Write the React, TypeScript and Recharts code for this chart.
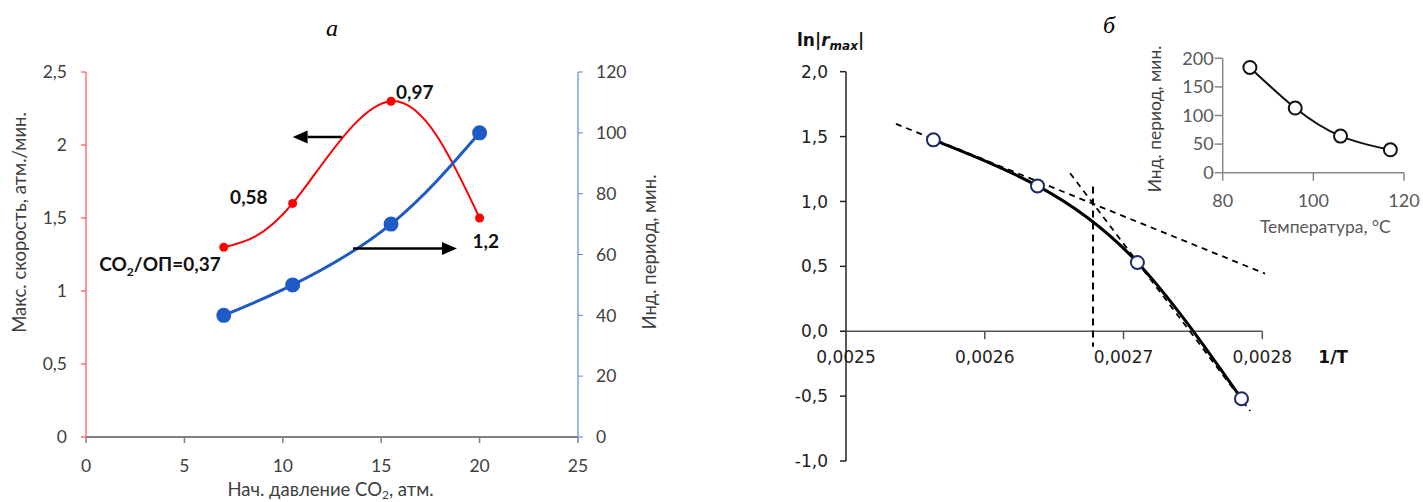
import React from 'react';
import { ComposedChart, LineChart, Line, XAxis, YAxis, ReferenceLine } from 'recharts';

// chart a — initial CO2 pressure
const pressure = [7, 10.5, 15.5, 20];
const maxRate = [1.3, 1.6, 2.3, 1.5];
const inductionPeriod = [40, 50, 70, 100];
const ratioLabels = ['0,37', '0,58', '0,97', '1,2'];
const pressureTicks = [0, 5, 10, 15, 20, 25];
const rateTicks = [0, 0.5, 1, 1.5, 2, 2.5];
const periodTicks = [0, 20, 40, 60, 80, 100, 120];
// arrows showing which axis each curve belongs to: [pressure, value]
const rateArrow = [[13.0, 2.055], [10.5, 2.055]];
const periodArrow = [[13.57, 62], [18.85, 62]];

// chart б — ln|r_max| vs 1/T
const invT = [0.002563, 0.002638, 0.00271, 0.002785];
const lnRmax = [1.475, 1.12, 0.53, -0.52];
const invTTicks = [0.0025, 0.0026, 0.0027, 0.0028];
const lnTicks = [-1, -0.5, 0, 0.5, 1, 1.5, 2];
// dashed tangents and the break marker: [1/T, ln r]
const tangentHigh = [[0.002536, 1.598], [0.002802, 0.444]];
const tangentLow = [[0.0026615, 1.218], [0.0027913, -0.615]];
const breakLine = [[0.002678, 1.115], [0.002678, -0.12]];

// inset — induction period vs temperature
const insetTemp = [86, 96, 106, 117];
const insetPeriod = [184, 113, 64, 40];
const tempTicks = [80, 100, 120];
const insetPeriodTicks = [0, 50, 100, 150, 200];

const dataA = pressure.map((p, i) => ({ p, rate: maxRate[i], period: inductionPeriod[i], label: ratioLabels[i] }));
const dataB = invT.map((x, i) => ({ x, y: lnRmax[i] }));
const dataInset = insetTemp.map((t, i) => ({ t, period: insetPeriod[i] }));

const comma = (v: number) => String(v).replace('.', ',');
const seg = (s: number[][]) => s.map(([x, y]) => ({ x, y }));

const FONT_A = 'Lato, "Open Sans", sans-serif';
const FONT_B = '"DejaVu Sans", sans-serif';

const labelPlacement = [
  { dx: -3, dy: 17, anchor: 'end' },
  { dx: -25, dy: -6, anchor: 'end' },
  { dx: 5, dy: -9, anchor: 'start' },
  { dx: -7, dy: 23, anchor: 'start' },
];

const RateDot = (props: any) => {
  const { cx, cy, index, payload } = props;
  const pl = labelPlacement[index];
  return (
    <g key={`rd-${index}`}>
      <circle cx={cx} cy={cy} r={4.5} fill="#ff0000" />
      <text x={cx + pl.dx} y={cy + pl.dy} dy="0.35em" textAnchor={pl.anchor as any} fontWeight="bold"
        fontSize={19} fontFamily={FONT_A} fill="#111">
        {index === 0 && (
          <>CO<tspan fontSize={12} dy={5}>2</tspan><tspan dy={-5}>/ОП=</tspan></>
        )}
        {payload.label}
      </text>
    </g>
  );
};

const Arrow = (props: any) => {
  const { x1, y1, x2, y2 } = props;
  const dir = Math.sign(x2 - x1);
  const head = 15;
  return (
    <g>
      <line x1={x1} y1={y1} x2={x2 - dir * head} y2={y2} stroke="#000" strokeWidth={2.5} />
      <polygon points={`${x2},${y2} ${x2 - dir * head},${y2 - 6.5} ${x2 - dir * head},${y2 + 6.5}`} fill="#000" />
    </g>
  );
};

const OpenDot = (color: string) => (props: any) => (
  <circle key={`od-${props.index}`} cx={props.cx} cy={props.cy} r={6.5} fill="#fff" stroke={color} strokeWidth={2} />
);

// tick for chart б drawn on the y=0 line instead of the bottom of the plot
const B_TOP = 71.7;
const B_BOTTOM = 41;
const B_H = 502 - B_TOP - B_BOTTOM;
const ZeroTick = (props: any) => {
  const { x, y, payload } = props;
  const zy = y - B_H / 3;
  return (
    <g>
      <line x1={x} y1={zy} x2={x} y2={zy + 8} stroke="#555" strokeWidth={1.5} />
      <text x={x} y={zy + 26} dy="0.35em" textAnchor="middle" fontSize={17} fontFamily={FONT_B} fill="#222">
        {payload.value.toFixed(4).replace('.', ',')}
      </text>
    </g>
  );
};

export default function App() {
  return (
    <div style={{ position: 'relative', width: 1423, height: 502, background: '#fff', overflow: 'hidden' }}>
      <style>{'body{margin:0}'}</style>
      <svg width={1423} height={502} style={{ position: 'absolute', left: 0, top: 0 }}>
        <text x={332} y={28} dy="0.35em" textAnchor="middle" fontSize={24} fontStyle="italic" fontFamily='"Liberation Serif", serif'>а</text>
        <text x={1109} y={25} dy="0.35em" textAnchor="middle" fontSize={24} fontStyle="italic" fontFamily='"Liberation Serif", serif'>б</text>
      </svg>

      {/* chart a */}
      <div style={{ position: 'absolute', left: 0, top: 0 }}>
        <LineChart width={700} height={502} data={dataA} margin={{ top: 72, right: 0, bottom: 0, left: 0 }}>
          <XAxis dataKey="p" type="number" domain={[0, 25]} ticks={pressureTicks} interval={0} height={65}
            axisLine={{ stroke: '#808080', strokeWidth: 2 }} tickLine={{ stroke: '#808080', strokeWidth: 1.5 }}
            tickSize={6} tickMargin={17} tick={{ fontSize: 17.5, fontFamily: FONT_A, fill: '#404040' }}
            label={(p: any) => {
              const vb = p.viewBox;
              return (
                <text x={vb.x + vb.width / 2 - 1.5} y={vb.y + 53} dy="0.35em" textAnchor="middle" fontSize={18.5}
                  fontFamily={FONT_A} fill="#404040">
                  Нач. давление CO<tspan fontSize={12} dy={3}>2</tspan><tspan dy={-3}>, атм.</tspan>
                </text>
              );
            }} />
          <YAxis yAxisId="left" domain={[0, 2.5]} ticks={rateTicks} interval={0} width={86}
            axisLine={{ stroke: '#ff7070', strokeWidth: 1.5 }} tickLine={{ stroke: '#ff3030' }} tickSize={5} tickMargin={14}
            tickFormatter={comma} tick={{ fontSize: 17.5, fontFamily: FONT_A, fill: '#404040' }}
            label={(p: any) => {
              const vb = p.viewBox;
              const cx = vb.x + 20;
              const cy = vb.y + vb.height / 2 - 32;
              return (
                <text x={cx} y={cy} dy="0.35em" transform={`rotate(-90 ${cx} ${cy})`} textAnchor="middle"
                  fontSize={18.5} fontFamily={FONT_A} fill="#404040">Макс. скорость, атм./мин.</text>
              );
            }} />
          <YAxis yAxisId="right" orientation="right" domain={[0, 120]} ticks={periodTicks} interval={0} width={122}
            axisLine={{ stroke: '#7ca2e2', strokeWidth: 1.5 }} tickLine={{ stroke: '#5b8ad8' }} tickSize={5} tickMargin={13}
            tick={{ fontSize: 17.5, fontFamily: FONT_A, fill: '#404040' }}
            label={(p: any) => {
              const vb = p.viewBox;
              const cx = vb.x + 72;
              const cy = vb.y + vb.height / 2 - 2.5;
              return (
                <text x={cx} y={cy} dy="0.35em" transform={`rotate(-90 ${cx} ${cy})`} textAnchor="middle"
                  fontSize={18.5} fontFamily={FONT_A} fill="#404040">Инд. период,  мин.</text>
              );
            }} />
          <Line yAxisId="left" dataKey="rate" type="natural" stroke="#ff0000" strokeWidth={2}
            dot={RateDot} isAnimationActive={false} />
          <Line yAxisId="right" dataKey="period" type="natural" stroke="#1f5bc6" strokeWidth={3}
            dot={{ r: 6, fill: '#1f5bc6', stroke: '#1f5bc6' }} isAnimationActive={false} />
          <ReferenceLine yAxisId="left" segment={seg(rateArrow)} shape={Arrow} ifOverflow="visible" />
          <ReferenceLine yAxisId="right" segment={seg(periodArrow)} shape={Arrow} ifOverflow="visible" />
        </LineChart>
      </div>

      {/* chart б */}
      <div style={{ position: 'absolute', left: 760, top: 0 }}>
        <ComposedChart width={663} height={502} data={dataB} margin={{ top: B_TOP, right: 160.7, bottom: 0, left: 0 }}>
          <XAxis dataKey="x" type="number" domain={[0.0025, 0.0028]} ticks={invTTicks} interval={0} height={B_BOTTOM}
            axisLine={false} tickLine={false} tickSize={0} tickMargin={0} tick={ZeroTick} />
          <YAxis domain={[-1, 2]} ticks={lnTicks} interval={0} width={86}
            axisLine={{ stroke: '#222', strokeWidth: 1.5 }} tickLine={{ stroke: '#222', strokeWidth: 1.5 }}
            tickSize={6} tickMargin={12} tickFormatter={(v: number) => v.toFixed(1).replace('.', ',')}
            tick={{ fontSize: 17, fontFamily: FONT_B, fill: '#222' }}
            label={(p: any) => {
              const vb = p.viewBox;
              return (
                <text x={vb.x + 37} y={vb.y - 31.7} dy="0.35em" fontSize={17} fontWeight="bold" fontFamily={FONT_B} fill="#111">
                  ln|<tspan fontStyle="italic">r</tspan><tspan fontStyle="italic" fontSize={12} dy={4}>max</tspan><tspan dy={-4}>|</tspan>
                </text>
              );
            }} />
          <ReferenceLine y={0} stroke="#555" strokeWidth={1.5}
            label={(p: any) => {
              const vb = p.viewBox;
              return (
                <text x={vb.x + vb.width + 56} y={vb.y + 26} dy="0.35em" fontSize={17} fontWeight="bold" fontFamily={FONT_B} fill="#111">1/T</text>
              );
            }} />
          <ReferenceLine segment={seg(tangentHigh)} stroke="#000" strokeWidth={1.8} strokeDasharray="6 5" ifOverflow="visible" />
          <ReferenceLine segment={seg(tangentLow)} stroke="#000" strokeWidth={1.8} strokeDasharray="6 5" ifOverflow="visible" />
          <ReferenceLine segment={seg(breakLine)} stroke="#000" strokeWidth={2} strokeDasharray="7 5" ifOverflow="visible" />
          <Line dataKey="y" type="natural" stroke="#000" strokeWidth={3} dot={OpenDot('#1c2a6b')} isAnimationActive={false} />
        </ComposedChart>
      </div>

      {/* inset */}
      <div style={{ position: 'absolute', left: 1100, top: 0 }}>
        <LineChart width={323} height={240} data={dataInset} margin={{ top: 58.3, right: 19, bottom: 0, left: 0 }}>
          <XAxis dataKey="t" type="number" domain={[80, 120]} ticks={tempTicks} interval={0} height={67.3}
            axisLine={{ stroke: '#888', strokeWidth: 1.5 }} tickLine={{ stroke: '#888', strokeWidth: 1.5 }}
            tickSize={8} tickMargin={14} tick={{ fontSize: 18, fontFamily: FONT_A, fill: '#595959' }}
            label={(p: any) => {
              const vb = p.viewBox;
              return (
                <text x={vb.x + vb.width / 2 + 12} y={vb.y + 54} dy="0.35em" textAnchor="middle" fontSize={17.5}
                  fontFamily={FONT_A} fill="#595959">Температура, °С</text>
              );
            }} />
          <YAxis domain={[0, 200]} ticks={insetPeriodTicks} interval={0} width={122.7}
            axisLine={{ stroke: '#888', strokeWidth: 1.5 }} tickLine={{ stroke: '#888', strokeWidth: 1.5 }}
            tickSize={8} tickMargin={1} tick={{ fontSize: 18, fontFamily: FONT_A, fill: '#595959' }}
            label={(p: any) => {
              const vb = p.viewBox;
              const cx = vb.x + 55;
              const cy = vb.y + vb.height / 2 + 3.5;
              return (
                <text x={cx} y={cy} dy="0.35em" transform={`rotate(-90 ${cx} ${cy})`} textAnchor="middle"
                  fontSize={17.5} fontFamily={FONT_A} fill="#404040">Инд. период, мин.</text>
              );
            }} />
          <Line dataKey="period" type="natural" stroke="#111" strokeWidth={2} dot={OpenDot('#111')} isAnimationActive={false} />
        </LineChart>
      </div>
    </div>
  );
}
